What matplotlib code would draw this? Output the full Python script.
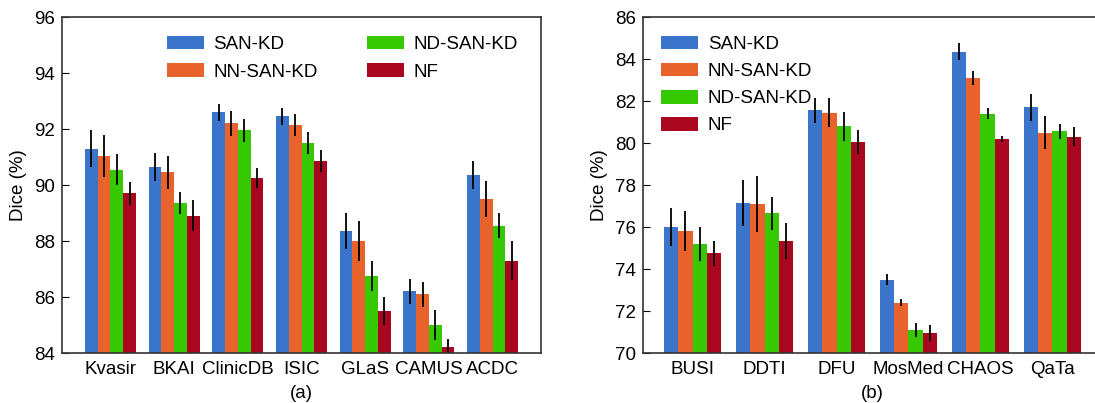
import numpy as np
import matplotlib
matplotlib.use('Agg')
import matplotlib.pyplot as plt

plt.rcParams['font.family'] = ['Liberation Sans', 'DejaVu Sans']

methods = ['SAN-KD', 'NN-SAN-KD', 'ND-SAN-KD', 'NF']
colors = ['#3b74cb', '#e8622c', '#36c800', '#a8071f']

# panel (a)
cats_a = ['Kvasir', 'BKAI', 'ClinicDB', 'ISIC', 'GLaS', 'CAMUS', 'ACDC']
san_a = [91.3, 90.65, 92.6, 92.45, 88.35, 86.2, 90.35]
nn_a = [91.05, 90.45, 92.2, 92.15, 88.0, 86.1, 89.5]
nd_a = [90.55, 89.35, 91.95, 91.5, 86.75, 85.0, 88.55]
nf_a = [89.7, 88.9, 90.25, 90.85, 85.5, 84.2, 87.3]
san_a_err = [0.65, 0.5, 0.3, 0.3, 0.65, 0.45, 0.5]
nn_a_err = [0.75, 0.6, 0.45, 0.4, 0.7, 0.45, 0.65]
nd_a_err = [0.55, 0.4, 0.4, 0.4, 0.55, 0.55, 0.45]
nf_a_err = [0.4, 0.55, 0.35, 0.4, 0.5, 0.3, 0.7]

# panel (b)
cats_b = ['BUSI', 'DDTI', 'DFU', 'MosMed', 'CHAOS', 'QaTa']
san_b = [76.0, 77.15, 81.55, 73.5, 84.35, 81.7]
nn_b = [75.8, 77.1, 81.45, 72.4, 83.1, 80.5]
nd_b = [75.2, 76.65, 80.8, 71.1, 81.4, 80.55]
nf_b = [74.75, 75.35, 80.05, 70.95, 80.2, 80.3]
san_b_err = [0.9, 1.1, 0.6, 0.25, 0.4, 0.65]
nn_b_err = [0.95, 1.35, 0.7, 0.15, 0.35, 0.8]
nd_b_err = [0.8, 0.8, 0.7, 0.35, 0.25, 0.35]
nf_b_err = [0.6, 0.85, 0.55, 0.4, 0.15, 0.45]

W, H = 1095, 403
fig = plt.figure(figsize=(W / 100, H / 100), dpi=100)
ax1 = fig.add_axes([62 / W, 50 / H, 479 / W, 336 / H])
ax2 = fig.add_axes([643 / W, 50 / H, 459 / W, 336 / H])

bw = 0.2


def draw(ax, cats, series, errs, ylim, ticks, label):
    x = np.arange(len(cats))
    for i, (vals, err) in enumerate(zip(series, errs)):
        ax.bar(x + (i - 1.5) * bw, vals, bw, color=colors[i], label=methods[i],
               yerr=err, error_kw=dict(ecolor='black', elinewidth=1.3, capsize=0),
               zorder=2)
    ax.set_ylim(*ylim)
    ax.set_yticks(ticks)
    ax.set_xticks(x)
    ax.set_xticklabels(cats)
    ax.tick_params(axis='x', length=0, labelsize=13.5, pad=6)
    ax.tick_params(axis='y', direction='in', length=5, labelsize=13.5, pad=5)
    ax.set_ylabel('Dice (%)', fontsize=13.5, labelpad=5)
    for s in ax.spines.values():
        s.set_color('#333333')
        s.set_linewidth(1.2)
    ax.text(0.5, -0.122, label, transform=ax.transAxes, ha='center', va='center', fontsize=13.5)


draw(ax1, cats_a, [san_a, nn_a, nd_a, nf_a], [san_a_err, nn_a_err, nd_a_err, nf_a_err],
     (84, 96), range(84, 97, 2), '(a)')
ax1.set_xlim(-0.76, 6.76)
ax1.legend(ncol=2, loc='upper center', bbox_to_anchor=(0.585, 0.995), frameon=False,
           fontsize=13.5, handlelength=2.0, handleheight=0.75, labelspacing=0.55,
           columnspacing=2.6, handletextpad=0.5)

draw(ax2, cats_b, [san_b, nn_b, nd_b, nf_b], [san_b_err, nn_b_err, nd_b_err, nf_b_err],
     (70, 86), range(70, 87, 2), '(b)')
ax2.set_xlim(-0.69, 5.69)
ax2.spines['right'].set_visible(False)
ax2.legend(loc='upper left', bbox_to_anchor=(0.002, 0.995), frameon=False,
           fontsize=13.5, handlelength=2.0, handleheight=0.75, labelspacing=0.52,
           handletextpad=0.5)

fig.savefig('out.png', dpi=100)
